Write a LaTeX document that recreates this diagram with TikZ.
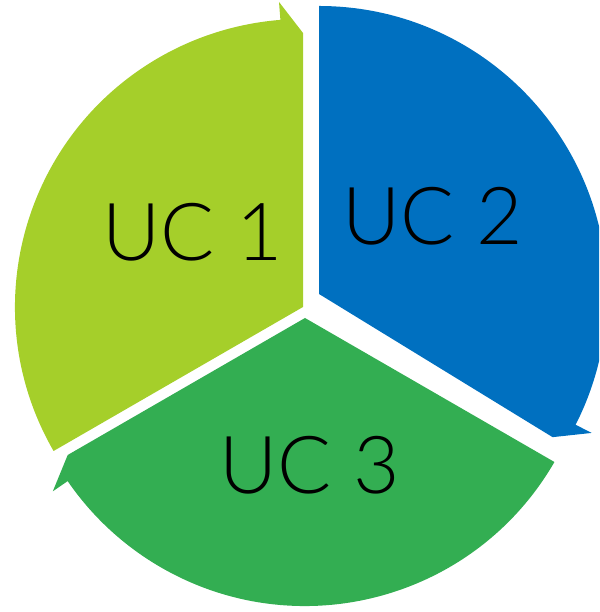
\documentclass[tikz,border=0pt]{standalone}
\usepackage{fontspec}
\setmainfont{Lato Light}
\definecolor{ucYellow}{RGB}{165,207,42}
\definecolor{ucBlue}{RGB}{0,112,192}
\definecolor{ucGreen}{RGB}{51,174,82}
\tikzset{
  uclabel/.style={anchor=base, inner sep=0pt, font=\fontsize{80}{90}\selectfont},
}
\begin{document}
\begin{tikzpicture}[x=1pt, y=1pt]
  \clip (0,0) rectangle (599,612);
  % Сегменты: вершина / начальный угол / размах / цвет
  \foreach \cx/\cy/\a/\s/\col in {303/305/210/120/ucYellow, 319/318/90/121.5/ucBlue, 305/294/-30/120/ucGreen}
  {
    \fill[\col, shift={(\cx,\cy)}] (0,0) -- (\a:288)
      arc[start angle=\a, end angle=\a-\s+4.5, radius=288]
      -- (\a-\s+4.5:306) -- (\a-\s:274) -- cycle;
  }
  % Подписи
  \node[uclabel] (uc1) at (193,351) {UC 1};
  \node[uclabel] (uc2) at (433,367) {UC 2};
  \node[uclabel] (uc3) at (310,118) {UC 3};
\end{tikzpicture}
\end{document}
